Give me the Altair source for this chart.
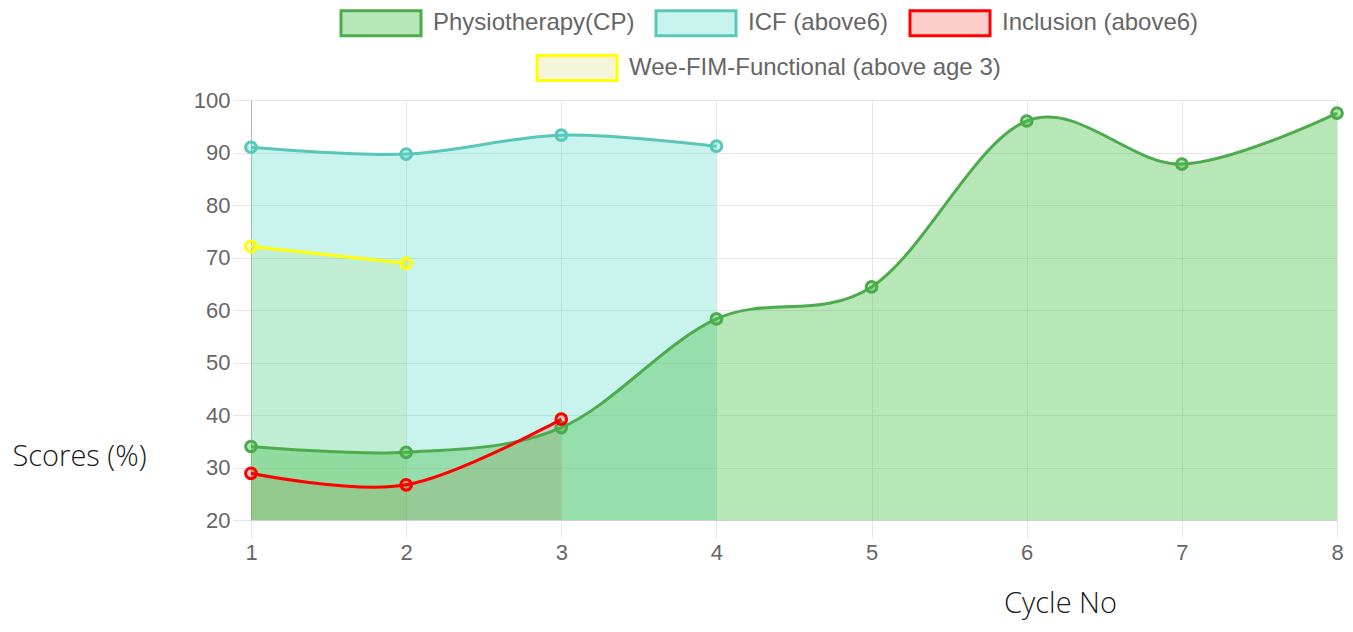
import altair as alt
import pandas as pd

# ---- data ----
series_names = [
    "Physiotherapy(CP)",
    "ICF (above6)",
    "Inclusion (above6)",
    "Wee-FIM-Functional (above age 3)",
]
physio_cycles = [1, 2, 3, 4, 5, 6, 7, 8]
physio_scores = [34.0, 32.9, 37.6, 58.3, 64.4, 96.0, 87.8, 97.5]
icf_cycles = [1, 2, 3, 4]
icf_scores = [91.0, 89.7, 93.3, 91.2]
incl_cycles = [1, 2, 3]
incl_scores = [28.9, 26.7, 39.2]
wee_cycles = [1, 2]
wee_scores = [72.1, 68.9]
cycle_ticks = [1, 2, 3, 4, 5, 6, 7, 8]
score_ticks = [20, 30, 40, 50, 60, 70, 80, 90, 100]

line_colors = ["#4cab4c", "#58c6b8", "#ff0000", "#ffff00"]
fill_colors = [
    "rgba(75,192,75,0.4)",
    "rgba(75,220,200,0.3)",
    "rgba(255,0,0,0.2)",
    "rgba(210,210,90,0.22)",
]

frames = [
    pd.DataFrame({"cycle": physio_cycles, "score": physio_scores, "series": series_names[0]}),
    pd.DataFrame({"cycle": icf_cycles, "score": icf_scores, "series": series_names[1]}),
    pd.DataFrame({"cycle": incl_cycles, "score": incl_scores, "series": series_names[2]}),
    pd.DataFrame({"cycle": wee_cycles, "score": wee_scores, "series": series_names[3]}),
]

RECT = "M-3.2,-1L3.2,-1L3.2,1L-3.2,1Z"
LABEL_FONT = "Liberation Sans"
TITLE_FONT = "Open Sans"

legend_common = dict(
    title=None,
    orient="none",
    direction="horizontal",
    symbolType=RECT,
    symbolSize=625,
    symbolStrokeWidth=3,
    symbolOpacity=1,
    labelFont=LABEL_FONT,
    labelFontSize=24,
    labelColor="#666666",
    labelOffset=38,
    labelLimit=600,
)
legend_main = alt.Legend(columns=3, columnPadding=15, legendX=116, legendY=-91, **legend_common)
legend_wee = alt.Legend(legendX=312, legendY=-46, **legend_common)

x_enc = alt.X(
    "cycle:Q",
    scale=alt.Scale(domain=[1, 8], nice=False, zero=False),
    axis=alt.Axis(
        values=cycle_ticks, format="d", title="Cycle No",
        grid=True, gridColor="#e6e6e6", tickColor="#e6e6e6", tickSize=18,
        domainColor="#d0d0d0", labelFlush=False, labelBound=False,
        labelFont=LABEL_FONT, labelFontSize=22, labelColor="#666666", labelPadding=4,
        titleFont=TITLE_FONT, titleFontSize=29, titleFontWeight=300, titleColor="#1a1a1a",
        titleX=809, titleY=83, titleAlign="center", titleBaseline="middle",
    ),
)
y_enc = alt.Y(
    "score:Q",
    scale=alt.Scale(domain=[20, 100], nice=False, zero=False),
    axis=alt.Axis(
        values=score_ticks, title="Scores (%)",
        grid=True, gridColor="#e6e6e6", tickColor="#e6e6e6", tickSize=18,
        domainColor="#b8b8b8", labelFlush=False,
        labelFont=LABEL_FONT, labelFontSize=22, labelColor="#666666", labelPadding=3,
        titleFont=TITLE_FONT, titleFontSize=29, titleFontWeight=300, titleColor="#1a1a1a",
        titleAngle=0, titleX=-239, titleY=356, titleAlign="left", titleBaseline="middle",
    ),
)

fill_scale = alt.Scale(domain=series_names[:3], range=fill_colors[:3])
stroke_scale = alt.Scale(domain=series_names[:3], range=line_colors[:3])


def fill_enc(i):
    if i < 3:
        return alt.Fill("series:N", scale=fill_scale, legend=legend_main)
    return alt.value(fill_colors[3])


def stroke_enc(i):
    if i < 3:
        return alt.Stroke("series:N", scale=stroke_scale, legend=legend_main)
    return alt.value(line_colors[3])


def area_layer(i):
    return alt.Chart(frames[i]).mark_area(interpolate="cardinal", opacity=1).encode(
        x=x_enc, y=y_enc, y2=alt.datum(20), fill=fill_enc(i)
    )


def line_layer(i):
    return alt.Chart(frames[i]).mark_line(interpolate="cardinal", strokeWidth=3, opacity=1).encode(
        x=x_enc, y=y_enc, stroke=stroke_enc(i)
    )


def point_layer(i):
    enc = dict(x=x_enc, y=y_enc, fill=fill_enc(i), stroke=stroke_enc(i))
    if i == 3:
        enc["opacity"] = alt.Opacity(
            "series:O", scale=alt.Scale(domain=[series_names[3]], range=[1]), legend=legend_wee
        )
    return alt.Chart(frames[i]).mark_point(
        shape="circle", filled=True, size=115, strokeWidth=3, opacity=1
    ).encode(**enc)


layers = [area_layer(i) for i in (2, 3, 1, 0)]
for i in (3, 1, 0, 2):
    layers.append(line_layer(i))
    layers.append(point_layer(i))

chart = alt.layer(*layers).properties(
    width=1086,
    height=420,
    autosize=alt.AutoSizeParams(type="none"),
    padding={"left": 243, "top": 92, "right": 8, "bottom": 100},
).configure_view(stroke="transparent")

chart.save("out.html", embed_options={"renderer": "svg", "actions": False})
